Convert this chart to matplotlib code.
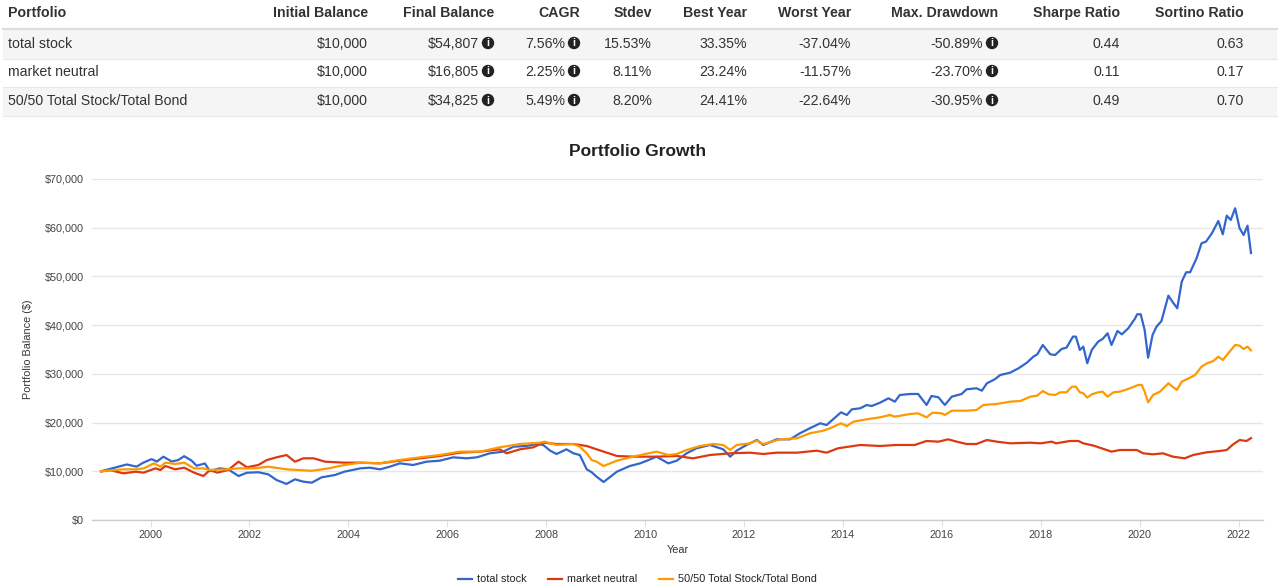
import matplotlib
matplotlib.use('Agg')
import matplotlib.pyplot as plt
from matplotlib.patches import Rectangle, Circle

plt.rcParams['font.family'] = ['Liberation Sans', 'DejaVu Sans']

# ---------------- table data ----------------
columns = ['Portfolio', 'Initial Balance', 'Final Balance', 'CAGR', 'Stdev',
           'Best Year', 'Worst Year', 'Max. Drawdown', 'Sharpe Ratio', 'Sortino Ratio']
portfolios = ['total stock', 'market neutral', '50/50 Total Stock/Total Bond']
initial_balance = ['$10,000', '$10,000', '$10,000']
final_balance = ['$54,807', '$16,805', '$34,825']
cagr = ['7.56%', '2.25%', '5.49%']
stdev = ['15.53%', '8.11%', '8.20%']
best_year = ['33.35%', '23.24%', '24.41%']
worst_year = ['-37.04%', '-11.57%', '-22.64%']
max_drawdown = ['-50.89%', '-23.70%', '-30.95%']
sharpe_ratio = ['0.44', '0.11', '0.49']
sortino_ratio = ['0.63', '0.17', '0.70']

# ---------------- series data (decimal years, balance $) ----------------
stock_t = [1999.00, 1999.35, 1999.52, 1999.72, 1999.85, 2000.02, 2000.13, 2000.26, 2000.43, 2000.56,
           2000.68, 2000.83, 2000.93, 2001.10, 2001.20, 2001.40, 2001.57, 2001.78, 2001.95, 2002.18,
           2002.38, 2002.55, 2002.75, 2002.92, 2003.09, 2003.26, 2003.46, 2003.73, 2003.92, 2004.24,
           2004.44, 2004.64, 2004.84, 2005.04, 2005.31, 2005.58, 2005.85, 2006.12, 2006.39, 2006.60,
           2006.86, 2007.13, 2007.34, 2007.60, 2007.81, 2007.94, 2008.08, 2008.21, 2008.41, 2008.55,
           2008.68, 2008.82, 2008.92, 2009.02, 2009.16, 2009.43, 2009.69, 2009.90, 2010.07, 2010.23,
           2010.47, 2010.64, 2010.84, 2011.04, 2011.31, 2011.58, 2011.72, 2011.85, 2012.05, 2012.26,
           2012.39, 2012.66, 2012.93, 2013.13, 2013.33, 2013.54, 2013.67, 2013.76, 2013.96, 2014.08,
           2014.18, 2014.35, 2014.48, 2014.58, 2014.75, 2014.92, 2015.05, 2015.15, 2015.36, 2015.52,
           2015.69, 2015.79, 2015.93, 2016.06, 2016.20, 2016.40, 2016.50, 2016.70, 2016.81, 2016.91,
           2017.07, 2017.18, 2017.38, 2017.55, 2017.72, 2017.85, 2017.93, 2018.04, 2018.19, 2018.29,
           2018.42, 2018.52, 2018.65, 2018.71, 2018.79, 2018.86, 2018.94, 2019.03, 2019.16, 2019.25,
           2019.35, 2019.43, 2019.55, 2019.64, 2019.77, 2019.90, 2019.95, 2020.02, 2020.10, 2020.17,
           2020.26, 2020.34, 2020.44, 2020.58, 2020.67, 2020.76, 2020.85, 2020.94, 2021.02, 2021.15,
           2021.25, 2021.34, 2021.46, 2021.59, 2021.68, 2021.76, 2021.84, 2021.93, 2022.02, 2022.10,
           2022.18, 2022.25]
stock_v = [10000, 10950, 11400, 10950, 11750, 12500, 12000, 13000, 12000, 12300,
           13100, 12200, 11150, 11600, 10050, 10600, 10400, 9030, 9700, 9800,
           9380, 8200, 7400, 8350, 7870, 7660, 8760, 9240, 9920, 10600,
           10740, 10400, 10950, 11630, 11290, 11970, 12180, 12870, 12660, 12870,
           13690, 14030, 15050, 15190, 15600, 15400, 14230, 13550, 14510, 13690,
           13340, 10400, 9800, 8890, 7800, 9920, 11080, 11630, 12320, 13000,
           11630, 12180, 13690, 14720, 15400, 14510, 13000, 14230, 15400, 16420,
           15400, 16560, 16560, 17800, 18830, 19850, 19500, 20300, 22100, 21560,
           22720, 22930, 23610, 23400, 24080, 24980, 24290, 25660, 25870, 25870,
           23610, 25460, 25190, 23610, 25320, 25870, 26830, 27040, 26550, 28060,
           28880, 29770, 30240, 31140, 32300, 33530, 34020, 35930, 34020, 33870,
           35100, 35380, 37640, 37640, 34900, 35580, 32170, 34900, 36610, 37160,
           38330, 35930, 38800, 38120, 39360, 41270, 42230, 42230, 39010, 33320,
           37980, 39690, 40850, 46050, 44690, 43460, 48930, 50860, 50860, 53730,
           56810, 57140, 58860, 61380, 58650, 62480, 61590, 63990, 59880, 58510,
           60420, 54807]

neutral_t = [1999.00, 1999.20, 1999.45, 1999.70, 1999.86, 2000.10, 2000.20, 2000.30, 2000.50, 2000.68,
             2000.88, 2001.07, 2001.20, 2001.35, 2001.57, 2001.78, 2001.95, 2002.18, 2002.35, 2002.55,
             2002.75, 2002.92, 2003.09, 2003.30, 2003.53, 2003.92, 2004.24, 2004.64, 2005.04, 2005.45,
             2005.85, 2006.25, 2006.66, 2007.06, 2007.20, 2007.47, 2007.74, 2007.94, 2008.21, 2008.55,
             2008.82, 2009.02, 2009.43, 2009.76, 2010.23, 2010.64, 2010.97, 2011.31, 2011.72, 2012.12,
             2012.39, 2012.66, 2013.07, 2013.47, 2013.67, 2013.90, 2014.35, 2014.75, 2015.08, 2015.45,
             2015.69, 2015.93, 2016.13, 2016.30, 2016.50, 2016.70, 2016.91, 2017.11, 2017.38, 2017.78,
             2018.00, 2018.22, 2018.31, 2018.59, 2018.76, 2018.86, 2019.07, 2019.27, 2019.43, 2019.60,
             2019.94, 2020.07, 2020.27, 2020.47, 2020.67, 2020.91, 2021.08, 2021.35, 2021.62, 2021.76,
             2021.89, 2022.02, 2022.16, 2022.25]
neutral_v = [10000, 10200, 9580, 9920, 9720, 10600, 10260, 11080, 10400, 10740,
             9720, 9030, 10260, 9720, 10260, 11970, 10820, 11290, 12300, 12870,
             13340, 11970, 12660, 12660, 11970, 11770, 11770, 11630, 12180, 12660,
             13140, 13820, 14030, 14510, 13690, 14510, 14920, 15870, 15600, 15600,
             15190, 14510, 13140, 13000, 13000, 13140, 12660, 13340, 13690, 13820,
             13550, 13820, 13820, 14230, 13820, 14720, 15400, 15190, 15400, 15400,
             16220, 16080, 16560, 16080, 15600, 15600, 16420, 16080, 15740, 15870,
             15740, 16080, 15740, 16220, 16220, 15740, 15260, 14580, 14030, 14370,
             14370, 13690, 13480, 13690, 13000, 12660, 13340, 13890, 14170, 14370,
             15530, 16420, 16220, 16805]

balanced_t = [1999.00, 1999.45, 1999.72, 1999.86, 2000.07, 2000.20, 2000.30, 2000.50, 2000.68, 2000.88,
              2001.07, 2001.20, 2001.57, 2001.78, 2002.10, 2002.38, 2002.75, 2003.26, 2003.60, 2003.92,
              2004.24, 2004.64, 2005.04, 2005.45, 2005.85, 2006.25, 2006.66, 2007.06, 2007.47, 2007.87,
              2007.97, 2008.21, 2008.55, 2008.68, 2008.82, 2008.92, 2009.02, 2009.16, 2009.43, 2009.76,
              2009.97, 2010.23, 2010.47, 2010.64, 2010.84, 2011.11, 2011.38, 2011.58, 2011.72, 2011.85,
              2012.12, 2012.26, 2012.39, 2012.73, 2013.07, 2013.33, 2013.60, 2013.74, 2013.96, 2014.08,
              2014.21, 2014.48, 2014.75, 2014.95, 2015.05, 2015.36, 2015.52, 2015.69, 2015.81, 2016.00,
              2016.06, 2016.20, 2016.50, 2016.70, 2016.84, 2017.11, 2017.38, 2017.59, 2017.79, 2017.93,
              2018.04, 2018.16, 2018.29, 2018.39, 2018.52, 2018.63, 2018.71, 2018.79, 2018.86, 2018.94,
              2019.03, 2019.16, 2019.25, 2019.35, 2019.47, 2019.60, 2019.77, 2019.97, 2020.04, 2020.10,
              2020.17, 2020.27, 2020.41, 2020.58, 2020.75, 2020.85, 2021.02, 2021.12, 2021.25, 2021.36,
              2021.49, 2021.59, 2021.68, 2021.79, 2021.93, 2022.02, 2022.10, 2022.18, 2022.25]
balanced_v = [10000, 10400, 10400, 10600, 11630, 10950, 11770, 11500, 11770, 10600,
              10600, 10260, 10400, 10600, 10600, 10950, 10400, 10100, 10600, 11290,
              11770, 11630, 12320, 12870, 13340, 14030, 14030, 14920, 15600, 15870,
              16080, 15400, 15600, 15050, 13690, 12300, 11970, 11080, 12180, 13000,
              13480, 14030, 13340, 13550, 14370, 15190, 15600, 15400, 14370, 15400,
              15740, 16290, 15600, 16560, 16770, 17800, 18330, 18830, 19850, 19300,
              20180, 20670, 21080, 21560, 21210, 21760, 21900, 21080, 22030, 21900,
              21560, 22440, 22440, 22580, 23610, 23820, 24290, 24430, 25320, 25530,
              26480, 25800, 25660, 26210, 26210, 27370, 27370, 26210, 26010, 25120,
              25800, 26210, 26350, 25320, 26210, 26350, 26900, 27720, 27720, 26350,
              24160, 25660, 26350, 28060, 26690, 28400, 29220, 29770, 31480, 32170,
              32640, 33530, 32850, 34220, 35930, 35790, 35100, 35580, 34825]

series_names = ['total stock', 'market neutral', '50/50 Total Stock/Total Bond']
series_colors = ['#3366cc', '#dc3912', '#ff9900']

y_ticks = [0, 10000, 20000, 30000, 40000, 50000, 60000, 70000]
y_tick_labels = ['$0', '$10,000', '$20,000', '$30,000', '$40,000', '$50,000', '$60,000', '$70,000']
x_ticks = [2000, 2002, 2004, 2006, 2008, 2010, 2012, 2014, 2016, 2018, 2020, 2022]

# ---------------- figure ----------------
W, H = 1280, 588
fig = plt.figure(figsize=(W / 100, H / 100), dpi=100)
fig.patch.set_facecolor('white')

# overlay axes in pixel coordinates for the table / legend
ov = fig.add_axes([0, 0, 1, 1])
ov.set_xlim(0, W)
ov.set_ylim(H, 0)
ov.set_aspect('auto')
ov.axis('off')

txt_color = '#333333'
fs_table = 10.2

# row backgrounds
row_y = [44, 72, 101]
row_h = 29
for i, yc in enumerate(row_y):
    if i % 2 == 0:
        ov.add_patch(Rectangle((3, yc - row_h / 2), W - 6, row_h, facecolor='#f5f5f5',
                               edgecolor='none', zorder=0))
    ov.plot([3, W - 3], [yc + row_h / 2, yc + row_h / 2], color='#e8e8e8', lw=0.8, zorder=1)
ov.plot([3, W - 3], [29, 29], color='#dddddd', lw=1.6, zorder=1)

col_right = [None, 368, 494, 580, 652, 747, 851, 998, 1120, 1244]
icon_cols = {2, 3, 7}
header_y = 13
for j, name in enumerate(columns):
    if j == 0:
        ov.text(8, header_y, name, ha='left', va='center', fontsize=fs_table,
                fontweight='bold', color=txt_color)
    else:
        ov.text(col_right[j], header_y, name, ha='right', va='center', fontsize=fs_table,
                fontweight='bold', color=txt_color)

table_cols = [portfolios, initial_balance, final_balance, cagr, stdev, best_year,
              worst_year, max_drawdown, sharpe_ratio, sortino_ratio]
for i, yc in enumerate(row_y):
    for j, col in enumerate(table_cols):
        val = col[i]
        if j == 0:
            ov.text(8, yc, val, ha='left', va='center', fontsize=fs_table, color=txt_color)
        elif j in icon_cols:
            ov.text(col_right[j] - 15, yc, val, ha='right', va='center', fontsize=fs_table,
                    color=txt_color)
            cx = col_right[j] - 6
            ov.add_patch(Circle((cx, yc - 1), 6.2, facecolor='#222222', edgecolor='none', zorder=3))
            ov.text(cx, yc - 0.5, 'i', ha='center', va='center', fontsize=7.5,
                    fontweight='bold', color='white', zorder=4)
        else:
            ov.text(col_right[j], yc, val, ha='right', va='center', fontsize=fs_table,
                    color=txt_color)

# title
ov.text(638, 152, 'Portfolio Growth', ha='center', va='center', fontsize=12.5,
        fontweight='bold', color='#222222')

# legend
leg_items = [(458, series_names[0], series_colors[0]),
             (548, series_names[1], series_colors[1]),
             (659, series_names[2], series_colors[2])]
for x0, name, c in leg_items:
    ov.plot([x0, x0 + 14], [579, 579], color=c, lw=1.6)
    ov.text(x0 + 19, 579, name, ha='left', va='center', fontsize=7.8, color='#222222')

# ---------------- chart axes ----------------
left_px, right_px, top_px, bottom_px = 92, 1263, 179, 520
ax = fig.add_axes([left_px / W, (H - bottom_px) / H, (right_px - left_px) / W,
                   (bottom_px - top_px) / H])
ax.set_facecolor('none')

ax.plot(stock_t, stock_v, color=series_colors[0], lw=1.6, zorder=3)
ax.plot(neutral_t, neutral_v, color=series_colors[1], lw=1.6, zorder=4)
ax.plot(balanced_t, balanced_v, color=series_colors[2], lw=1.6, zorder=5)

ax.set_ylim(0, 70000)
ax.set_xlim(1998.817, 2022.493)
ax.set_yticks(y_ticks)
ax.set_yticklabels(y_tick_labels)
ax.set_xticks(x_ticks)
ax.set_xticklabels([str(x) for x in x_ticks])
ax.tick_params(axis='y', length=0, labelsize=7.8, labelcolor='#444444', pad=6)
ax.tick_params(axis='x', length=5, color='#e2e2e2', labelsize=7.8, labelcolor='#444444', pad=2)
ax.grid(axis='y', color='#e6e6e6', lw=1.0, zorder=0)
for s in ['top', 'right', 'left']:
    ax.spines[s].set_visible(False)
ax.spines['bottom'].set_color('#cccccc')
ax.spines['bottom'].set_linewidth(1.0)

ax.set_xlabel('Year', fontsize=7.8, color='#333333', labelpad=4)
ax.set_ylabel('Portfolio Balance ($)', fontsize=7.8, color='#333333', labelpad=8)

fig.savefig('out.png', dpi=100, facecolor='white')
